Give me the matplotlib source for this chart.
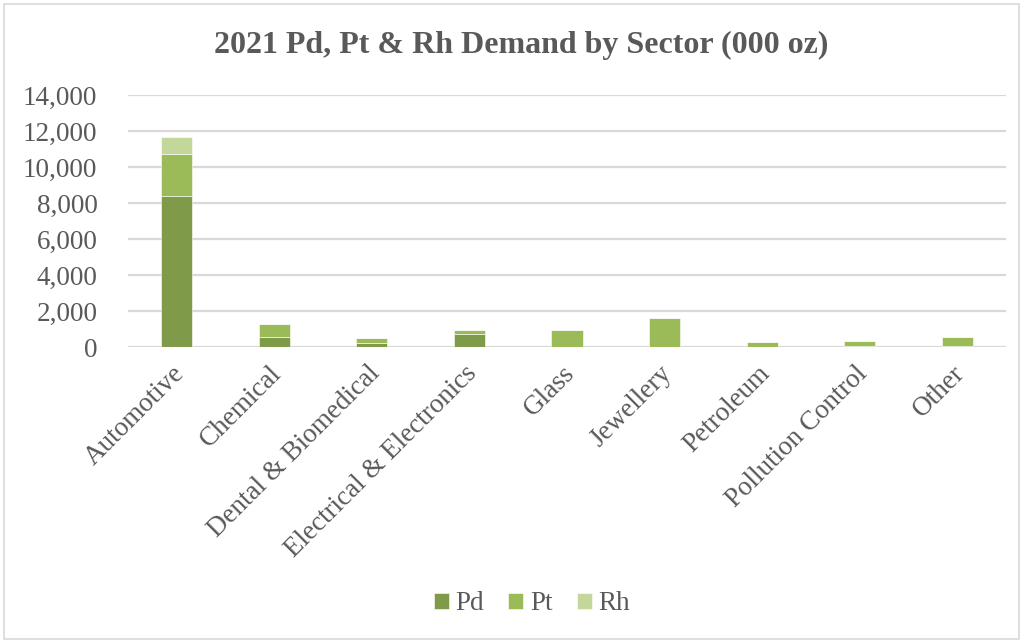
import matplotlib.pyplot as plt
import matplotlib.transforms as mtransforms
import numpy as np
from matplotlib.patches import Rectangle
from matplotlib.ticker import FuncFormatter

sectors = ["Automotive", "Chemical", "Dental & Biomedical", "Electrical & Electronics",
           "Glass", "Jewellery", "Petroleum", "Pollution Control", "Other"]
pd_demand = [8400, 575, 250, 705, 0, 10, 0, 60, 60]
pt_demand = [2320, 700, 240, 255, 950, 1600, 280, 270, 510]
rh_demand = [970, 20, 0, 10, 0, 0, 0, 0, 0]

colors = {"Pd": "#7f9a48", "Pt": "#9bbb59", "Rh": "#c4d79b"}

plt.rcParams["font.family"] = ["Liberation Serif", "DejaVu Serif"]

fig = plt.figure(figsize=(10.23, 6.43), dpi=100)
ax = fig.add_axes([128 / 1023, 1 - 347 / 643, 878 / 1023, 252 / 643])

x = np.arange(len(sectors))
w = 0.32
bottom = np.zeros(len(sectors))
for name, vals in [("Pd", pd_demand), ("Pt", pt_demand), ("Rh", rh_demand)]:
    vals = np.array(vals, dtype=float)
    ax.bar(x, vals, w, bottom=bottom, color=colors[name], label=name,
           edgecolor="white", linewidth=0.4, zorder=3)
    bottom += vals

ax.set_xlim(-0.5, len(sectors) - 0.5)
ax.set_ylim(0, 14000)
ax.set_yticks(np.arange(0, 14001, 2000))
ax.yaxis.set_major_formatter(FuncFormatter(lambda v, p: f"{int(v):,}"))
ax.grid(axis="y", color="#d9d9d9", linewidth=1.6, zorder=0)
for s in ax.spines.values():
    s.set_visible(False)
ax.tick_params(axis="both", length=0, labelsize=19.5, colors="#595959")
ax.tick_params(axis="y", pad=22)
ax.tick_params(axis="x", pad=10)
ax.set_xticks(x)
ax.set_xticklabels(sectors, rotation=45, ha="right", rotation_mode="anchor")

# nudge the slanted category labels a little to the left
shift = mtransforms.ScaledTranslation(-5 / 100, 0, fig.dpi_scale_trans)
for lbl in ax.get_xticklabels():
    lbl.set_transform(lbl.get_transform() + shift)

fig.text(521 / 1023, 1 - 45 / 643, "2021 Pd, Pt & Rh Demand by Sector (000 oz)",
         ha="center", va="center", fontsize=23, fontweight="bold", color="#595959")

leg = fig.legend(loc="center", bbox_to_anchor=(532 / 1023, 1 - 604 / 643), ncol=3, frameon=False,
                 fontsize=19.5, handlelength=0.55, handleheight=0.55, columnspacing=0.9,
                 handletextpad=0.25, labelcolor="#595959")

fig.patches.append(Rectangle((4 / 1023, 4 / 643), 1 - 8 / 1023, 1 - 8 / 643,
                             transform=fig.transFigure, fill=False,
                             edgecolor="#d9d9d9", linewidth=1.2))

fig.savefig("out.png", dpi=100)
